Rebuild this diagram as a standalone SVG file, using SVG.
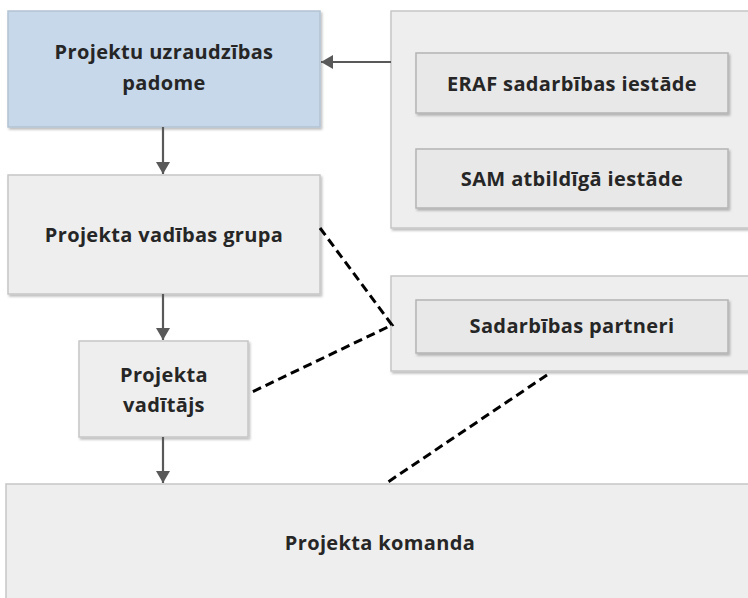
<svg xmlns="http://www.w3.org/2000/svg" width="748" height="598" viewBox="0 0 748 598">
<style>
.box{fill:#eeeeee;stroke:#c6c6c6;stroke-width:1.5}
.blue{fill:#c6d8ea;stroke:#b3c3d3;stroke-width:1.5}
.inner{fill:#e8e8e8;stroke:#b4b4b4;stroke-width:1.5}
.t{font-family:"Open Sans","Liberation Sans",sans-serif;font-weight:700;font-size:20px;letter-spacing:0.35px;fill:#262626;text-anchor:middle}
.arrow{stroke:#595959;stroke-width:2.2;fill:none}
.dash{stroke:#000;stroke-width:3;fill:none;stroke-dasharray:9 5}
</style>
<defs>
<filter id="sh" x="-5%" y="-5%" width="110%" height="115%">
<feDropShadow dx="1.5" dy="2" stdDeviation="1.2" flood-color="#000" flood-opacity="0.25"/>
</filter>
<marker id="ah" viewBox="0 0 12 14" refX="12" refY="7" markerWidth="12" markerHeight="14" markerUnits="userSpaceOnUse" orient="auto">
<path d="M0,0 L12,7 L0,14 Z" fill="#595959"/>
</marker>
</defs>
<rect width="748" height="598" fill="#fff"/>
<g id="n-padome">
<rect class="blue" x="8" y="11" width="312" height="116" filter="url(#sh)"/>
<text class="t" x="164" y="59">Projektu uzraudzības</text>
<text class="t" x="164" y="90">padome</text>
</g>
<g id="n-vadibas-grupa">
<rect class="box" x="8" y="175" width="312" height="119" filter="url(#sh)"/>
<text class="t" x="164" y="242">Projekta vadības grupa</text>
</g>
<g id="n-vaditajs">
<rect class="box" x="79" y="341" width="169" height="96" filter="url(#sh)"/>
<text class="t" x="164" y="382">Projekta</text>
<text class="t" x="164" y="412">vadītājs</text>
</g>
<g id="n-iestades">
<rect class="box" x="391" y="11" width="370" height="217" filter="url(#sh)"/>
<g id="n-eraf">
<rect class="inner" x="416" y="53" width="312" height="60" filter="url(#sh)"/>
<text class="t" x="572" y="91">ERAF sadarbības iestāde</text>
</g>
<g id="n-sam">
<rect class="inner" x="416" y="149" width="312" height="59" filter="url(#sh)"/>
<text class="t" x="572" y="186">SAM atbildīgā iestāde</text>
</g>
</g>
<g id="n-partneri-group">
<rect class="box" x="391" y="276" width="370" height="95" filter="url(#sh)"/>
<g id="n-partneri">
<rect class="inner" x="416" y="300" width="312" height="53" filter="url(#sh)"/>
<text class="t" x="572" y="333">Sadarbības partneri</text>
</g>
</g>
<g id="n-komanda">
<rect class="box" x="6" y="484" width="760" height="130"/>
<text class="t" x="380" y="550">Projekta komanda</text>
</g>
<g id="connectors">
<line class="arrow" x1="391" y1="62" x2="321" y2="62" marker-end="url(#ah)"/>
<line class="arrow" x1="163" y1="127" x2="163" y2="174" marker-end="url(#ah)"/>
<line class="arrow" x1="163" y1="294" x2="163" y2="340" marker-end="url(#ah)"/>
<line class="arrow" x1="163" y1="437" x2="163" y2="483" marker-end="url(#ah)"/>
<polyline class="dash" points="320,228 392,325 250,393"/>
<line class="dash" x1="547" y1="375" x2="388" y2="482"/>
</g>
</svg>
